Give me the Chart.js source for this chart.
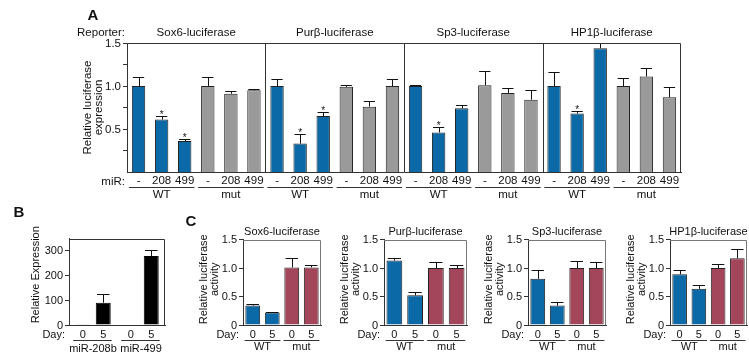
<!DOCTYPE html>
<html>
<head>
<meta charset="utf-8">
<script src="https://cdn.jsdelivr.net/npm/chart.js@4.4.1/dist/chart.umd.min.js"></script>
<style>
  html, body { margin: 0; padding: 0; background: #fff; }
  #fig { position: relative; width: 749px; height: 358px; overflow: hidden; }
  #fig canvas { position: absolute; }
</style>
</head>
<body>
<div id="fig">
  <canvas id="panelA"></canvas>
  <canvas id="panelB"></canvas>
  <canvas id="panelC0"></canvas>
  <canvas id="panelC1"></canvas>
  <canvas id="panelC2"></canvas>
  <canvas id="panelC3"></canvas>
</div>
<script>
// ---- Panel A: reporter assays, WT (-, 208, 499) then mut (-, 208, 499)
const reporters = ['Sox6-luciferase', 'Purβ-luciferase', 'Sp3-luciferase', 'HP1β-luciferase'];
const mirLabels = ['-', '208', '499'];
const constructs = ['WT', 'mut'];
const sox6Means = [1.00, 0.61, 0.36, 1.00, 0.91, 0.95];
const sox6Errors = [0.11, 0.045, 0.025, 0.10, 0.03, 0.02];
const purbMeans = [1.00, 0.33, 0.65, 0.99, 0.76, 1.00];
const purbErrors = [0.085, 0.11, 0.05, 0.025, 0.06, 0.08];
const sp3Means = [1.00, 0.46, 0.74, 1.01, 0.92, 0.84];
const sp3Errors = [0.015, 0.06, 0.04, 0.17, 0.06, 0.115];
const hp1bMeans = [1.00, 0.68, 1.44, 1.00, 1.11, 0.87];
const hp1bErrors = [0.16, 0.03, 0.06, 0.09, 0.10, 0.12];
const sox6Stars = [0, 1, 1, 0, 0, 0];
const purbStars = [0, 1, 1, 0, 0, 0];
const sp3Stars = [0, 1, 0, 0, 0, 0];
const hp1bStars = [0, 1, 0, 0, 0, 0];
const aTickValues = [0.25, 0.5, 0.75, 1.0, 1.25, 1.5];
const aLabelled = [0.5, 1.0, 1.5];

// ---- Panel B: miRNA expression
const bGroups = ['miR-208b', 'miR-499'];
const bDays = ['0', '5'];
const bDay0 = [1, 2];
const bDay0Err = [0, 0];
const bDay5 = [90, 279];
const bDay5Err = [34, 26];
const bTickValues = [0, 100, 200, 300];

// ---- Panel C: WT day 0, WT day 5, mut day 0, mut day 5
const cDayLabels = ['0', '5', '0', '5'];
const cSox6 = [0.34, 0.22, 1.01, 1.01];
const cSox6Err = [0.035, 0.015, 0.16, 0.05];
const cPurb = [1.13, 0.52, 1.00, 1.00];
const cPurbErr = [0.05, 0.06, 0.11, 0.045];
const cSp3 = [0.81, 0.34, 1.00, 1.00];
const cSp3Err = [0.16, 0.065, 0.12, 0.11];
const cHp1b = [0.89, 0.635, 1.00, 1.17];
const cHp1bErr = [0.08, 0.065, 0.07, 0.17];
const cTickValues = [0, 0.5, 1.0, 1.5];

const FONT = '"Liberation Sans", Arial, Helvetica, sans-serif';
const BLUE = '#0a69a6';
const GREY = '#9a9a9a';
const MAROON = '#a3465c';
const INK = '#111111';
const AXIS = '#333333';

Chart.defaults.font.family = FONT;
Chart.defaults.color = INK;

function text(ctx, str, x, y, o = {}) {
  ctx.save();
  ctx.font = (o.bold ? 'bold ' : '') + (o.size || 11) + 'px ' + FONT;
  ctx.fillStyle = INK;
  ctx.textAlign = o.align || 'center';
  ctx.textBaseline = 'middle';
  if (o.rotate) {
    ctx.translate(x, y);
    ctx.rotate(-Math.PI / 2);
    ctx.fillText(str, 0, 0);
  } else {
    ctx.fillText(str, x, y);
  }
  ctx.restore();
}

function line(ctx, x0, y0, x1, y1, color) {
  ctx.save();
  ctx.strokeStyle = color || AXIS;
  ctx.lineWidth = 1;
  ctx.beginPath();
  ctx.moveTo(x0, y0);
  ctx.lineTo(x1, y1);
  ctx.stroke();
  ctx.restore();
}

function frame(ctx, a, color) {
  const t = Math.round(a.top) + 0.5, r = Math.round(a.right) - 0.5;
  line(ctx, a.left, t, r, t, color);
  line(ctx, r, t, r, a.bottom, color);
}

// y tick labels, placed from the y scale
function yLabels(chart, values, fmt, size) {
  const { ctx, chartArea: a, scales: { y } } = chart;
  values.forEach(v => {
    const s = fmt(v);
    if (s) text(ctx, s, a.left - 6, y.getPixelForValue(v) + 0.5, { size, align: 'right' });
  });
}

// error bars (upper half only) and significance stars
const errorBars = {
  id: 'errorBars',
  afterDatasetsDraw(chart) {
    const { ctx, scales: { y } } = chart;
    chart.data.datasets.forEach((ds, di) => {
      if (!ds.errors) return;
      chart.getDatasetMeta(di).data.forEach((bar, i) => {
        const top = Math.round(y.getPixelForValue(ds.data[i] + ds.errors[i])) + 0.5;
        const x = Math.round(bar.x) + 0.5;
        const half = bar.width * 0.42;
        if (ds.errors[i] > 0) {
          line(ctx, x, bar.y, x, top, INK);
          line(ctx, bar.x - half, top, bar.x + half, top, INK);
        }
        if (ds.stars && ds.stars[i]) {
          ctx.save();
          ctx.fillStyle = INK;
          ctx.font = '10px ' + FONT;
          ctx.textAlign = 'center';
          ctx.textBaseline = 'alphabetic';
          ctx.fillText('*', bar.x, top + 1);
          ctx.restore();
        }
      });
    });
  }
};

function barChart(id, box, area, cfg) {
  const canvas = document.getElementById(id);
  canvas.width = box.w;
  canvas.height = box.h;
  Object.assign(canvas.style, {
    left: box.x + 'px', top: box.y + 'px', width: box.w + 'px', height: box.h + 'px'
  });
  return new Chart(canvas, {
    type: 'bar',
    data: { labels: cfg.labels, datasets: cfg.datasets },
    options: {
      responsive: false,
      animation: false,
      layout: { padding: { left: 0, top: area.t - box.y, right: box.x + box.w - area.r, bottom: 0 } },
      plugins: { legend: { display: false }, tooltip: { enabled: false } },
      scales: {
        x: {
          grid: { display: false, drawTicks: false },
          border: { color: AXIS },
          ticks: { color: INK, font: { size: cfg.fontSize }, padding: cfg.xPad, autoSkip: false, maxRotation: 0 },
          afterFit: s => { s.height = box.y + box.h - area.b; }
        },
        y: {
          min: 0,
          max: cfg.max,
          afterBuildTicks: s => { s.ticks = cfg.tickValues.map(v => ({ value: v })); },
          ticks: { display: false },
          grid: { drawOnChartArea: false, tickLength: 4, color: AXIS },
          border: { color: AXIS },
          afterFit: s => { s.width = area.l - box.x; }
        }
      }
    },
    plugins: [errorBars, {
      id: id + 'Decor',
      afterDraw(chart) {
        yLabels(chart, cfg.tickValues, cfg.tickLabel, cfg.fontSize);
        cfg.decor(chart);
      }
    }]
  });
}

// ---------- Panel A
const aMeans = [].concat(sox6Means, purbMeans, sp3Means, hp1bMeans);
const aErrors = [].concat(sox6Errors, purbErrors, sp3Errors, hp1bErrors);
const aStars = [].concat(sox6Stars, purbStars, sp3Stars, hp1bStars);
const aLabels = [];
const aColors = [];
reporters.forEach(() => constructs.forEach((c, k) => mirLabels.forEach(m => {
  aLabels.push(m);
  aColors.push(k === 0 ? BLUE : GREY);
})));

barChart('panelA', { x: 0, y: 0, w: 749, h: 200 }, { l: 127, t: 43, r: 681, b: 172 }, {
  labels: aLabels,
  fontSize: 11.5,
  xPad: 2,
  max: 1.5,
  tickValues: aTickValues,
  tickLabel: v => (aLabelled.includes(v) ? v.toFixed(1) : ''),
  datasets: [{
    data: aMeans,
    errors: aErrors,
    stars: aStars,
    backgroundColor: aColors,
    borderColor: '#222',
    borderWidth: 1,
    barPercentage: 0.58,
    categoryPercentage: 1.0
  }],
  decor(chart) {
    const { ctx, chartArea: a, scales: { x } } = chart;
    const cw = x.getPixelForValue(1) - x.getPixelForValue(0);
    frame(ctx, a, AXIS);
    reporters.forEach((name, g) => {
      const first = g * 6;
      const mid = (x.getPixelForValue(first) + x.getPixelForValue(first + 5)) / 2;
      text(ctx, name, mid, a.top - 10, { size: 11.5 });
      if (g > 0) {
        const sx = Math.round(x.getPixelForValue(first) - cw / 2) + 0.5;
        line(ctx, sx, a.top, sx, a.bottom, AXIS);
      }
      constructs.forEach((c, k) => {
        const i0 = first + k * 3;
        const x0 = x.getPixelForValue(i0) - cw * 0.42;
        const x1 = x.getPixelForValue(i0 + 2) + cw * 0.42;
        line(ctx, x0, a.bottom + 15.5, x1, a.bottom + 15.5, AXIS);
        text(ctx, c, (x0 + x1) / 2, a.bottom + 22.5, { size: 11.5 });
      });
    });
    text(ctx, 'Reporter:', a.left - 2, a.top - 10, { size: 11.5, align: 'right' });
    text(ctx, 'miR:', a.left - 2, a.bottom + 9.5, { size: 11.5, align: 'right' });
    text(ctx, 'A', 93, 16, { size: 15, bold: true });
    const cy = (a.top + a.bottom) / 2;
    text(ctx, 'Relative luciferase', a.left - 39, cy, { size: 11.5, rotate: true });
    text(ctx, 'expression', a.left - 28, cy, { size: 11.5, rotate: true });
  }
});

// ---------- Panel B
barChart('panelB', { x: 0, y: 200, w: 176, h: 158 }, { l: 69, t: 238.5, r: 165, b: 325 }, {
  labels: bGroups,
  fontSize: 11,
  xPad: 3,
  max: 350,
  tickValues: bTickValues,
  tickLabel: v => String(v),
  datasets: [
    { data: bDay0, errors: bDay0Err, backgroundColor: '#000', borderColor: '#000', borderWidth: 1,
      barPercentage: 0.73, categoryPercentage: 0.854 },
    { data: bDay5, errors: bDay5Err, backgroundColor: '#000', borderColor: '#000', borderWidth: 1,
      barPercentage: 0.73, categoryPercentage: 0.854 }
  ],
  decor(chart) {
    const { ctx, chartArea: a, scales: { x } } = chart;
    frame(ctx, a, AXIS);
    // replace the default category labels with day labels under each bar
    const m0 = chart.getDatasetMeta(0).data, m1 = chart.getDatasetMeta(1).data;
    ctx.save();
    ctx.fillStyle = '#fff';
    ctx.fillRect(a.left + 1, a.bottom + 1, a.right - a.left, 20);
    ctx.restore();
    bGroups.forEach((g, i) => {
      text(ctx, bDays[0], m0[i].x, a.bottom + 10);
      text(ctx, bDays[1], m1[i].x, a.bottom + 10);
      const x0 = m0[i].x - m0[i].width / 2 - 2, x1 = m1[i].x + m1[i].width / 2 + 1;
      line(ctx, x0, a.bottom + 15.5, x1, a.bottom + 15.5, AXIS);
      text(ctx, g, x.getPixelForValue(i), a.bottom + 23.5);
    });
    text(ctx, 'Day:', a.left - 4, a.bottom + 10, { align: 'right' });
    text(ctx, 'B', 19, 13, { size: 15, bold: true });
    text(ctx, 'Relative Expression', 36, (a.top + a.bottom) / 2 - 7, { rotate: true });
  }
});

// ---------- Panel C
const cSeries = [
  { means: cSox6, errors: cSox6Err },
  { means: cPurb, errors: cPurbErr },
  { means: cSp3, errors: cSp3Err },
  { means: cHp1b, errors: cHp1bErr }
];
const cBoxes = [
  { x: 176, y: 200, w: 154, h: 158 },
  { x: 330, y: 200, w: 145, h: 158 },
  { x: 475, y: 200, w: 140, h: 158 },
  { x: 615, y: 200, w: 134, h: 158 }
];
const cAreas = [
  { l: 243, t: 239.5, r: 321, b: 325 },
  { l: 384, t: 239.5, r: 467, b: 325 },
  { l: 528, t: 239.5, r: 606, b: 325 },
  { l: 670, t: 239.5, r: 747, b: 325 }
];

cSeries.forEach((s, n) => {
  const box = cBoxes[n];
  barChart('panelC' + n, box, cAreas[n], {
    labels: cDayLabels,
    fontSize: 11,
    xPad: 3,
    max: 1.5,
    tickValues: cTickValues,
    tickLabel: v => (v === 0 ? '0' : v.toFixed(1)),
    datasets: [{
      data: s.means,
      errors: s.errors,
      backgroundColor: [BLUE, BLUE, MAROON, MAROON],
      borderColor: '#222',
      borderWidth: 1,
      barPercentage: 0.76,
      categoryPercentage: 1.0
    }],
    decor(chart) {
      const { ctx, chartArea: a, scales: { x } } = chart;
      const cw = x.getPixelForValue(1) - x.getPixelForValue(0);
      frame(ctx, a, '#777');
      text(ctx, reporters[n], (a.left + a.right) / 2, a.top - 7.5);
      text(ctx, 'Day:', a.left - 4, a.bottom + 10, { align: 'right' });
      constructs.forEach((c, k) => {
        const x0 = x.getPixelForValue(k * 2) - cw * 0.42;
        const x1 = x.getPixelForValue(k * 2 + 1) + cw * 0.42;
        line(ctx, x0, a.bottom + 15.5, x1, a.bottom + 15.5, AXIS);
        text(ctx, c, (x0 + x1) / 2, a.bottom + 22);
      });
      const cy = (a.top + a.bottom) / 2 - 3;
      text(ctx, 'Relative luciferase', a.left - 39, cy, { rotate: true });
      text(ctx, 'activity', a.left - 28, cy, { rotate: true });
      if (n === 0) text(ctx, 'C', 191 - box.x, 22, { size: 15, bold: true });
    }
  });
});
</script>
</body>
</html>
